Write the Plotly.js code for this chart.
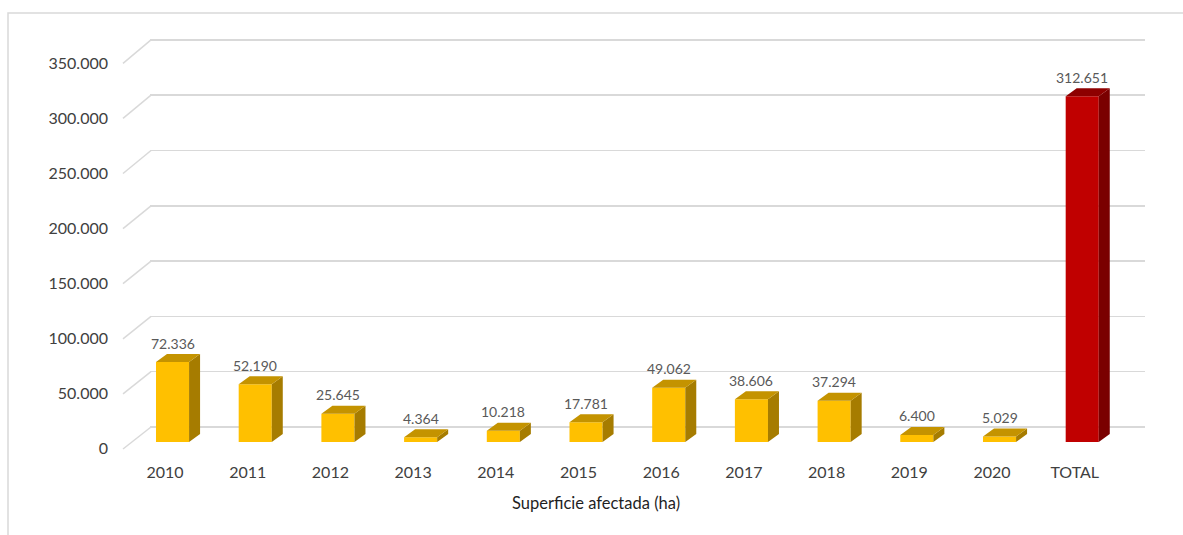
<!DOCTYPE html>
<html>
<head>
<meta charset="utf-8">
<script src="https://cdn.plot.ly/plotly-3.0.1.min.js"></script>
<style>html,body{margin:0;padding:0;background:#fff;}#chart{width:1183px;height:535px;}</style>
</head>
<body>
<div id="chart"></div>
<script>
// ---- data ----
const categories = ["2010","2011","2012","2013","2014","2015","2016","2017","2018","2019","2020","TOTAL"];
const values = [72336, 52190, 25645, 4364, 10218, 17781, 49062, 38606, 37294, 6400, 5029, 312651];
const isTotal = [false,false,false,false,false,false,false,false,false,false,false,true];
const yTickVals = [0, 50000, 100000, 150000, 200000, 250000, 300000, 350000];

// ---- geometry (pixels -> data) ----
const W = 1183, H = 535;
const plotL = 150, plotR = 1145, plotT = 30, plotB = 449;
const plotW = plotR - plotL, plotH = plotB - plotT;
const catPx = 82.7, cat0Px = 165;
const pxPerUnitBack = 55.3 / 50000, pxPerUnitFront = 55.1 / 50000;
const backZeroPx = 427, barZeroPx = 442, frontZeroPx = 449;

const xRange = [(plotL - cat0Px) / catPx, (plotR - cat0Px) / catPx];
const yBackRange = [-(plotB - backZeroPx) / pxPerUnitBack, (backZeroPx - plotT) / pxPerUnitBack];
const yBarRange = [-(plotB - barZeroPx) / pxPerUnitBack, (barZeroPx - plotT) / pxPerUnitBack];
const yFrontRange = [-100, (frontZeroPx - plotT) / pxPerUnitFront];

const barOffset = -0.109, barWidth = 0.4;
const depthX = 11 / catPx, depthY = 8 / pxPerUnitBack;

const fmt = n => n.toString().replace(/\B(?=(\d{3})+(?!\d))/g, '.');

const colFront = isTotal.map(t => t ? '#C00000' : '#FFC000');

function faces(sel, kind) {
  const xs = [], ys = [];
  values.forEach((v, i) => {
    if (!sel(i)) return;
    const xl = i + barOffset, xr = xl + barWidth;
    if (kind === 'top') {
      xs.push(xl, xr, xr + depthX, xl + depthX, xl, null);
      ys.push(v, v, v + depthY, v + depthY, v, null);
    } else {
      xs.push(xr, xr, xr + depthX, xr + depthX, xr, null);
      ys.push(0, v, v + depthY, depthY, 0, null);
    }
  });
  return {x: xs, y: ys};
}

function faceTrace(sel, kind, color) {
  const f = faces(sel, kind);
  return {type: 'scatter', mode: 'lines', x: f.x, y: f.y, xaxis: 'x', yaxis: 'y2',
    fill: 'toself', fillcolor: color, line: {width: 0, color: color}, hoverinfo: 'skip', showlegend: false};
}

// invisible helper traces so that the grid axis (y) and the front tick axis (y3) get their subplots
function axisHolder(yaxisId) {
  return {type: 'scatter', mode: 'markers', x: yTickVals.map(() => 0), y: yTickVals, xaxis: 'x', yaxis: yaxisId,
    marker: {opacity: 0, size: 1}, hoverinfo: 'skip', showlegend: false};
}

const traces = [
  axisHolder('y'),
  axisHolder('y3'),
  {type: 'bar', x: categories.map((c, i) => i), y: values, xaxis: 'x', yaxis: 'y2',
   offset: barOffset, width: barWidth, marker: {color: colFront, line: {width: 0}},
   hoverinfo: 'skip', showlegend: false},
  faceTrace(i => !isTotal[i], 'side', '#A67C00'),
  faceTrace(i => !isTotal[i], 'top', '#C49300'),
  faceTrace(i => isTotal[i], 'side', '#7A0000'),
  faceTrace(i => isTotal[i], 'top', '#8E0000')
];

const toPaperX = px => (px - plotL) / plotW;
const toPaperY = py => (plotB - py) / plotH;

const shapes = [];
yTickVals.forEach(t => {
  shapes.push({type: 'line', xref: 'paper', yref: 'paper', layer: 'below',
    x0: toPaperX(123), y0: toPaperY(frontZeroPx - t * pxPerUnitFront),
    x1: toPaperX(151), y1: toPaperY(backZeroPx - t * pxPerUnitBack),
    line: {color: '#D9D9D9', width: 1.5}});
});
shapes.push({type: 'rect', xref: 'paper', yref: 'paper', layer: 'below',
  x0: toPaperX(8), x1: toPaperX(1250), y0: toPaperY(600), y1: toPaperY(13),
  line: {color: '#D9D9D9', width: 1.5}});

const annotations = values.map((v, i) => ({
  x: i + barOffset + barWidth / 2, y: v, xref: 'x', yref: 'y2',
  text: fmt(v), showarrow: false, yanchor: 'middle', yshift: 19,
  font: {family: 'Lato, sans-serif', size: 14, color: '#595959'}
}));
annotations.push({x: toPaperX(596), y: toPaperY(503), xref: 'paper', yref: 'paper',
  text: 'Superficie afectada (ha)', showarrow: false, xanchor: 'center', yanchor: 'middle',
  font: {family: 'Lato, sans-serif', size: 16.5, color: '#1F1F1F'}});

const layout = {
  width: W, height: H,
  margin: {l: plotL, r: W - plotR, t: plotT, b: H - plotB, pad: 0},
  paper_bgcolor: '#ffffff', plot_bgcolor: 'rgba(0,0,0,0)',
  separators: ',.',
  showlegend: false,
  xaxis: {range: xRange, tickmode: 'array', tickvals: categories.map((c, i) => i), ticktext: categories,
    showgrid: false, zeroline: false, showline: false, ticks: '', ticklabelstandoff: 12,
    tickfont: {family: 'Lato, sans-serif', size: 16, color: '#404040'}, fixedrange: true},
  yaxis: {range: yBackRange, tickmode: 'linear', tick0: 0, dtick: 50000, showgrid: true,
    gridcolor: '#D9D9D9', gridwidth: 1.5, zeroline: false, showline: false, showticklabels: false, ticks: ''},
  yaxis2: {range: yBarRange, overlaying: 'y', showgrid: false, zeroline: false, showline: false,
    showticklabels: false, ticks: ''},
  yaxis3: {range: yFrontRange, overlaying: 'y', side: 'left', tickmode: 'array', tickvals: yTickVals,
    tickformat: ',d', showgrid: false, zeroline: false, showline: false, ticks: '', ticklabelstandoff: 41,
    tickfont: {family: 'Lato, sans-serif', size: 16, color: '#404040'}},
  shapes: shapes,
  annotations: annotations
};

Plotly.newPlot('chart', traces, layout, {displayModeBar: false, staticPlot: true});
</script>
</body>
</html>
